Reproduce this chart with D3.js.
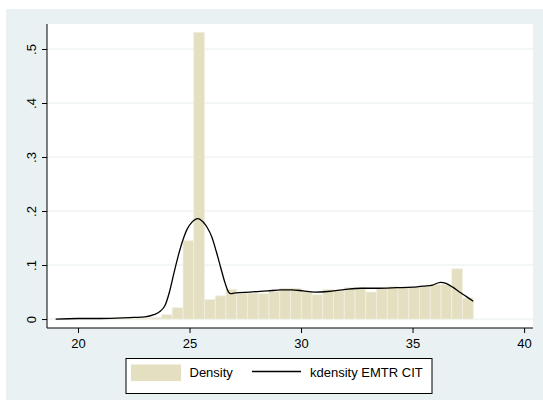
<!DOCTYPE html>
<html>
<head>
<meta charset="utf-8">
<script src="https://cdn.jsdelivr.net/npm/d3@7"></script>
<style>
  html, body { margin: 0; padding: 0; background: #ffffff; }
  svg { display: block; font-family: "Liberation Sans", Arial, sans-serif; }
</style>
</head>
<body>
<svg id="chart" width="543" height="400"></svg>
<script>
// ---- data ----
const binStart = 18.924;
const binWidth = 0.482;
const histDensity = [
  0.001, 0.001, 0.001, 0.001, 0.001, 0.001, 0.001, 0.002, 0.002, 0.003,
  0.008, 0.021, 0.145, 0.531, 0.036, 0.043, 0.055, 0.048, 0.048, 0.047,
  0.051, 0.057, 0.057, 0.051, 0.045, 0.055, 0.052, 0.058, 0.058, 0.050,
  0.056, 0.060, 0.059, 0.059, 0.060, 0.064, 0.064, 0.093, 0.039
];
const kdeX = [19.0, 20.0, 21.0, 22.0, 22.5, 23.0, 23.4, 23.7, 23.9, 24.1, 24.3, 24.5, 24.7, 24.9, 25.1, 25.37,
  25.6, 25.8, 26.0, 26.2, 26.4, 26.6, 26.75, 26.85, 27.0, 27.7, 28.5, 29.1, 29.6, 30.1, 30.6, 31.2,
  32.0, 32.7, 33.5, 34.3, 35.0, 35.5, 35.9, 36.25, 36.5, 36.8, 37.1, 37.4, 37.72];
const kdeY = [0.000, 0.001, 0.001, 0.002, 0.003, 0.004, 0.008, 0.015, 0.025, 0.050, 0.085, 0.118, 0.146, 0.167, 0.179, 0.186,
  0.180, 0.169, 0.152, 0.125, 0.095, 0.066, 0.050, 0.047, 0.048, 0.050, 0.052, 0.054, 0.054, 0.052, 0.050, 0.051,
  0.055, 0.057, 0.057, 0.058, 0.059, 0.061, 0.063, 0.068, 0.066, 0.059, 0.050, 0.042, 0.033];
const xTicks = [20, 25, 30, 35, 40];
const yTicks = [0, 0.1, 0.2, 0.3, 0.4, 0.5];
const legendLabels = ["Density", "kdensity EMTR CIT"];

// ---- layout ----
const svg = d3.select("#chart");
const plot = { left: 47, right: 533, top: 24, bottom: 328 };
const x = d3.scaleLinear().domain([18.61, 40.40]).range([plot.left, plot.right]);
const y = d3.scaleLinear().domain([-0.0166, 0.5463]).range([plot.bottom, plot.top]);

// outer background
svg.append("rect").attr("x", 6).attr("y", 9).attr("width", 537).attr("height", 391).attr("fill", "#e9f1f3");
// plot region
svg.append("rect").attr("x", plot.left).attr("y", plot.top)
  .attr("width", plot.right - plot.left).attr("height", plot.bottom - plot.top).attr("fill", "#ffffff");

// gridlines
svg.append("g").selectAll("line").data(yTicks).join("line")
  .attr("x1", plot.left).attr("x2", plot.right)
  .attr("y1", d => y(d)).attr("y2", d => y(d))
  .attr("stroke", "#e6eef0").attr("stroke-width", 1);

// histogram bars
svg.append("g").selectAll("rect").data(histDensity).join("rect")
  .attr("x", (d, i) => x(binStart + i * binWidth))
  .attr("width", (d, i) => x(binStart + (i + 1) * binWidth) - x(binStart + i * binWidth))
  .attr("y", d => y(d))
  .attr("height", d => y(0) - y(d))
  .attr("fill", "#e3dfc0")
  .attr("stroke", "#f1efe2")
  .attr("stroke-width", 0.8);

// kdensity line
const line = d3.line().x(d => x(d[0])).y(d => y(d[1])).curve(d3.curveMonotoneX);
svg.append("path").datum(kdeX.map((v, i) => [v, kdeY[i]]))
  .attr("d", line).attr("fill", "none").attr("stroke", "#000").attr("stroke-width", 1.3);

// axes
const xAxis = svg.append("g").attr("transform", `translate(0,${plot.bottom})`)
  .call(d3.axisBottom(x).tickValues(xTicks).tickSize(5).tickPadding(6).tickSizeOuter(0).tickFormat(d3.format("d")));
xAxis.select(".domain").attr("d", `M${plot.left},0H${plot.right}`).attr("stroke", "#000");
xAxis.selectAll("text").attr("font-size", 13).attr("fill", "#000").attr("font-family", "Liberation Sans, Arial, sans-serif");

const fmtY = d => d === 0 ? "0" : d3.format(".1f")(d).replace(/^0/, "");
const yAxis = svg.append("g").attr("transform", `translate(${plot.left},0)`)
  .call(d3.axisLeft(y).tickValues(yTicks).tickSize(5).tickSizeOuter(0).tickFormat(fmtY));
yAxis.select(".domain").attr("d", `M0,${plot.top}V${plot.bottom}`).attr("stroke", "#000");
yAxis.selectAll("text")
  .attr("font-size", 13).attr("fill", "#000").attr("font-family", "Liberation Sans, Arial, sans-serif")
  .attr("x", 0).attr("y", -11).attr("dy", 0)
  .attr("text-anchor", "middle").attr("transform", "rotate(-90)");

// legend
const lg = svg.append("g");
lg.append("rect").attr("x", 126).attr("y", 358.5).attr("width", 306).attr("height", 35)
  .attr("fill", "#fff").attr("stroke", "#000").attr("stroke-width", 1);
lg.append("rect").attr("x", 131).attr("y", 364.5).attr("width", 50).attr("height", 16.5).attr("fill", "#e3dfc0");
lg.append("text").attr("x", 189.5).attr("y", 376.5).attr("font-size", 13).text(legendLabels[0]);
lg.append("line").attr("x1", 252).attr("x2", 301).attr("y1", 371.5).attr("y2", 371.5)
  .attr("stroke", "#000").attr("stroke-width", 1.3);
lg.append("text").attr("x", 310).attr("y", 376.5).attr("font-size", 13).text(legendLabels[1]);
</script>
</body>
</html>
